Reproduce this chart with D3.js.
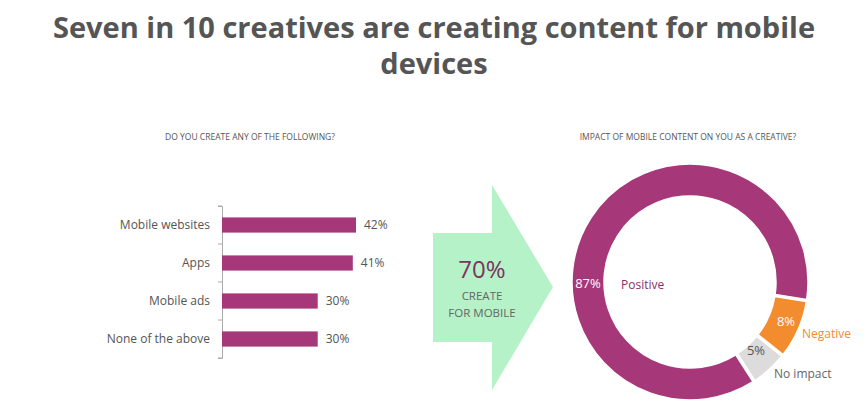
<!DOCTYPE html>
<html><head><meta charset="utf-8">
<script src="https://cdn.jsdelivr.net/npm/d3@7"></script>
<style>body{margin:0;background:#fff}text{font-family:"Open Sans",sans-serif}</style>
</head><body><svg id="c" width="868" height="412"></svg>
<script>
const categories=["Mobile websites","Apps","Mobile ads","None of the above"];
const values=[42,41,30,30];
const pieLabels=["Negative","No impact","Positive"];
const pieValues=[8,5,87];
const pieColors=["#f28c2e","#dedbdc","#a6387a"];
const labelColors=["#f28c2e","#666","#8a2f68"];

const svg=d3.select("#c");
svg.append("text").attr("x",434).attr("y",38).attr("text-anchor","middle").attr("font-size",29).attr("font-weight",700).attr("fill","#555").text("Seven in 10 creatives are creating content for mobile");
svg.append("text").attr("x",434).attr("y",74).attr("text-anchor","middle").attr("font-size",29).attr("font-weight",700).attr("fill","#555").text("devices");

svg.append("text").attr("x",250).attr("y",140).attr("text-anchor","middle").attr("font-size",8.5).attr("fill","#555").text("DO YOU CREATE ANY OF THE FOLLOWING?");
svg.append("text").attr("x",688).attr("y",140).attr("text-anchor","middle").attr("font-size",8.5).attr("fill","#555").text("IMPACT OF MOBILE CONTENT ON YOU AS A CREATIVE?");

const x=d3.scaleLinear().domain([0,42]).range([222,356]);
const y=d3.scaleBand().domain(categories).range([206,358]).paddingInner(0.6).paddingOuter(0.3);
const ya=d3.axisLeft(y).tickSize(4).tickPadding(8);
const ag=svg.append("g").attr("transform","translate(222,0)").call(ya);
ag.select(".domain").attr("stroke","#aaa");
ag.selectAll(".tick line").remove();
ag.selectAll(".tick text").attr("font-size",12).attr("fill","#555").attr("font-family","Open Sans");
const bnd=[206].concat(categories.map((c,i)=>y(c)+y.bandwidth()+y.step()*y.paddingInner()/2));
ag.selectAll(".bt").data(bnd).enter().append("line").attr("x1",-4).attr("x2",0).attr("y1",d=>d).attr("y2",d=>d).attr("stroke","#aaa");
svg.selectAll(".bar").data(values).enter().append("rect").attr("x",x(0)).attr("y",(d,i)=>y(categories[i])).attr("width",d=>x(d)-x(0)).attr("height",y.bandwidth()).attr("fill","#a6387a");
svg.selectAll(".bl").data(values).enter().append("text").attr("x",d=>x(d)+8).attr("y",(d,i)=>y(categories[i])+y.bandwidth()/2+4).attr("font-size",12).attr("fill","#555").text(d=>d+"%");

// arrow
svg.append("path").attr("d","M433,233 L492,233 L492,185 L553,287 L492,390 L492,342 L433,342 Z").attr("fill","#b5f2c8");
svg.append("text").attr("x",482).attr("y",278).attr("text-anchor","middle").attr("font-size",24).attr("fill","#7a3560").text("70%");
svg.append("text").attr("x",482).attr("y",300).attr("text-anchor","middle").attr("font-size",11.5).attr("fill","#666").text("CREATE");
svg.append("text").attr("x",482).attr("y",317).attr("text-anchor","middle").attr("font-size",11.5).attr("fill","#666").text("FOR MOBILE");

// donut
const cx=690,cy=282,ro=118,ri=86;
const st=99*Math.PI/180;
const pie=d3.pie().sort(null).startAngle(st).endAngle(st+2*Math.PI).padAngle(0.015);
const arcs=pie(pieValues);
const arc=d3.arc().innerRadius(ri).outerRadius(ro);
const dg=svg.append("g").attr("transform",`translate(${cx},${cy})`);
dg.selectAll("path").data(arcs).enter().append("path").attr("d",arc).attr("fill",(d,i)=>pieColors[i]).attr("stroke","#fff").attr("stroke-width",1.5);
const pctPos=[[96,44],[66,73],[-102,6]];
dg.selectAll(".pl").data(arcs).enter().append("text").attr("x",(d,i)=>pctPos[i][0]).attr("y",(d,i)=>pctPos[i][1]).attr("text-anchor","middle").attr("font-size",13).attr("fill",(d,i)=>i==2?"#fff":(i==0?"#fff":"#555")).text((d,i)=>pieValues[i]+"%");
const namePos=[[112,56],[84,96],[-69,7]];
dg.selectAll(".nl").data(arcs).enter().append("text").attr("x",(d,i)=>namePos[i][0]).attr("y",(d,i)=>namePos[i][1]).attr("font-size",12).attr("fill",(d,i)=>labelColors[i]).text((d,i)=>pieLabels[i]);
</script></body></html>
